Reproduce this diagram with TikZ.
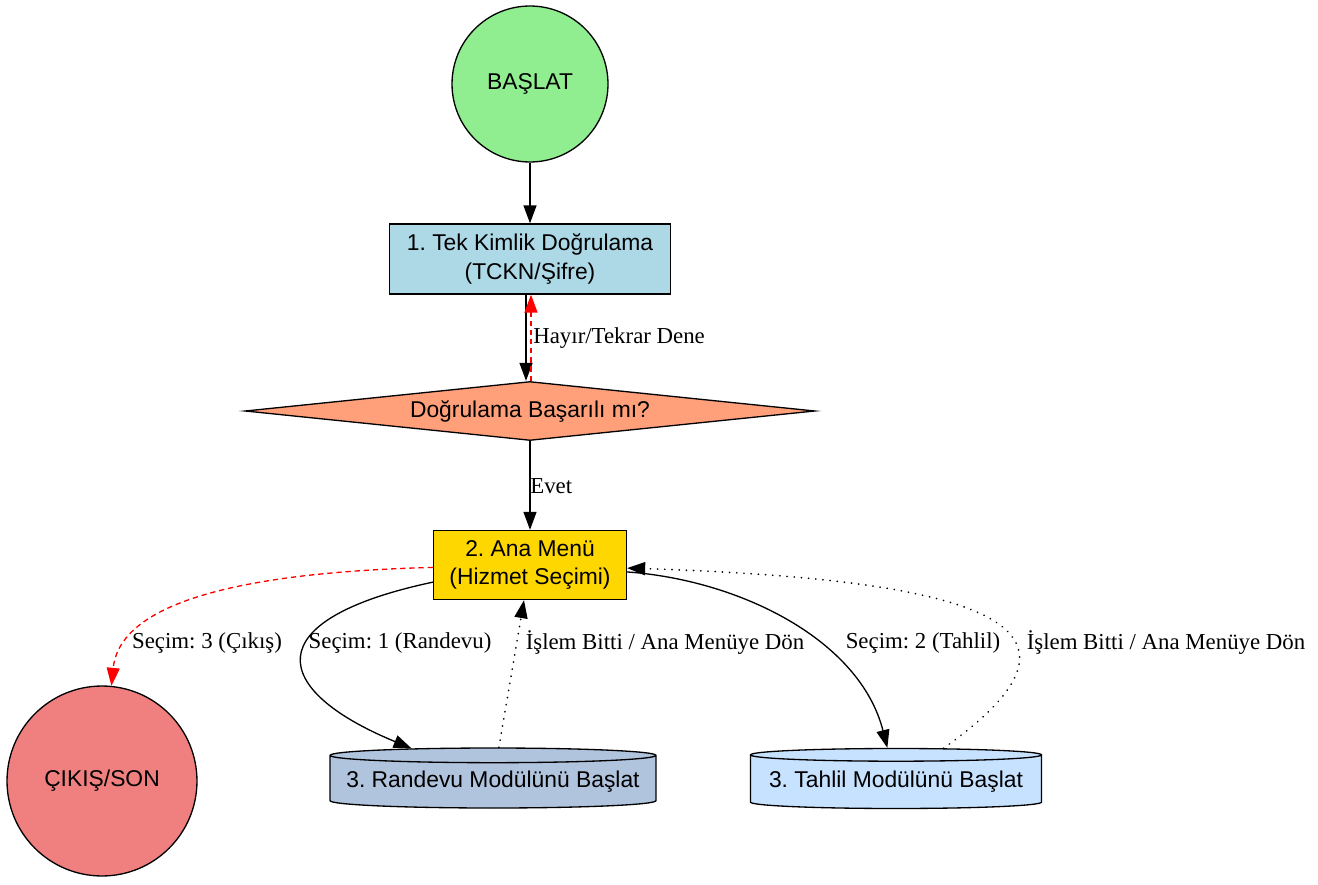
\documentclass[tikz,border=0pt]{standalone}
\usepackage{fontspec}
\setmainfont{Liberation Serif}
\newfontfamily\nodefont{Liberation Sans}
\usetikzlibrary{arrows.meta,shapes.geometric}
\frenchspacing

\definecolor{startgreen}{HTML}{90EE90}
\definecolor{authblue}{HTML}{ADD8E6}
\definecolor{checksalmon}{HTML}{FFA07A}
\definecolor{menugold}{HTML}{FFD700}
\definecolor{exitcoral}{HTML}{F08080}
\definecolor{apptsteel}{HTML}{B0C4DE}
\definecolor{labblue}{HTML}{C6E2FF}

\tikzset{
	box/.style={draw, line width=0.75pt, rectangle, align=center, inner sep=0pt,
		font=\nodefont\fontsize{13}{16}\selectfont},
	term/.style={draw, line width=0.75pt, circle, inner sep=0pt,
		font=\nodefont\fontsize{13}{16}\selectfont},
	check/.style={draw, line width=0.75pt, diamond, aspect=9.6, inner sep=0pt,
		font=\nodefont\fontsize{13}{16}\selectfont},
	module/.style={draw, line width=0.75pt, cylinder, shape border rotate=90, aspect=0.05,
		inner sep=0pt, font=\nodefont\fontsize{13}{16}\selectfont},
	lbl/.style={inner sep=0pt, font=\fontsize{13}{16}\selectfont},
	flow/.style={line width=0.75pt, -{Triangle[length=0.36cm, width=0.26cm]}},
	loopback/.style={flow, red, dash pattern=on 3pt off 2.2pt},
	back/.style={flow, line cap=round, dash pattern=on 0.1pt off 4pt, line width=1pt}
}

\begin{document}
\begin{tikzpicture}[x=0.02cm, y=-0.02cm]
		%%%%% START %%%%%
		\useasboundingbox (0, 0) rectangle (1318, 885);
		
		\node[term, fill=startgreen, minimum size=3.12cm] (start) at (530, 84) {BAŞLAT};
		\node[box, fill=authblue, minimum width=5.62cm, minimum height=1.4cm] (auth) at (530, 259) {1. Tek Kimlik Doğrulama\\(TCKN/Şifre)};
		\node[check, fill=checksalmon, minimum width=11.4cm, minimum height=1.18cm] (check) at (530, 411) {Doğrulama Başarılı mı?};
		\node[box, fill=menugold, minimum width=3.86cm, minimum height=1.38cm] (menu) at (530, 565) {2. Ana Menü\\(Hizmet Seçimi)};
		
		\node[term, fill=exitcoral, minimum size=3.8cm] (exit) at (102, 781) {ÇIKIŞ/SON};
		\node[module, fill=apptsteel, minimum width=6.52cm, minimum height=1.2cm] (appt) at (493, 782) {3. Randevu Modülünü Başlat};
		\node[module, fill=labblue, minimum width=5.82cm, minimum height=1.2cm] (lab) at (896, 782) {3. Tahlil Modülünü Başlat};
		
		% main line
		\draw[flow] (start) -- (auth);
		\draw[flow] ([xshift=-0.08cm]auth.south) -- ([xshift=-0.08cm]check.north);
		\draw[loopback] ([xshift=0.02cm]check.north) -- ([xshift=0.02cm]auth.south);
		\draw[flow] (check) -- (menu);
		
		% menu choices
		\draw[loopback] (menu) .. controls (250, 572) and (120, 600) .. (exit);
		\draw[flow] (menu.190) .. controls (255, 620) and (270, 690) .. (appt);
		\draw[back] (appt) -- (menu);
		\draw[flow] (menu) .. controls (740, 580) and (860, 640) .. (lab);
		\draw[back] (lab) .. controls (1110, 630) and (1000, 580) .. (menu);
		
		% labels
		\node[lbl, anchor=west] (retry) at (533, 338) {Hayır/Tekrar Dene};
		\node[lbl, anchor=west] (yes) at (530, 486) {Evet};
		\node[lbl] (pick3) at (207, 643) {Seçim: 3 (Çıkış)};
		\node[lbl] (pick1) at (400, 643) {Seçim: 1 (Randevu)};
		\node[lbl] (done1) at (665, 643) {İşlem Bitti / Ana Menüye Dön};
		\node[lbl] (pick2) at (923, 643) {Seçim: 2 (Tahlil)};
		\node[lbl] (done2) at (1166, 643) {İşlem Bitti / Ana Menüye Dön};
		
		%%%%% END %%%%%
	\end{tikzpicture}
\end{document}
